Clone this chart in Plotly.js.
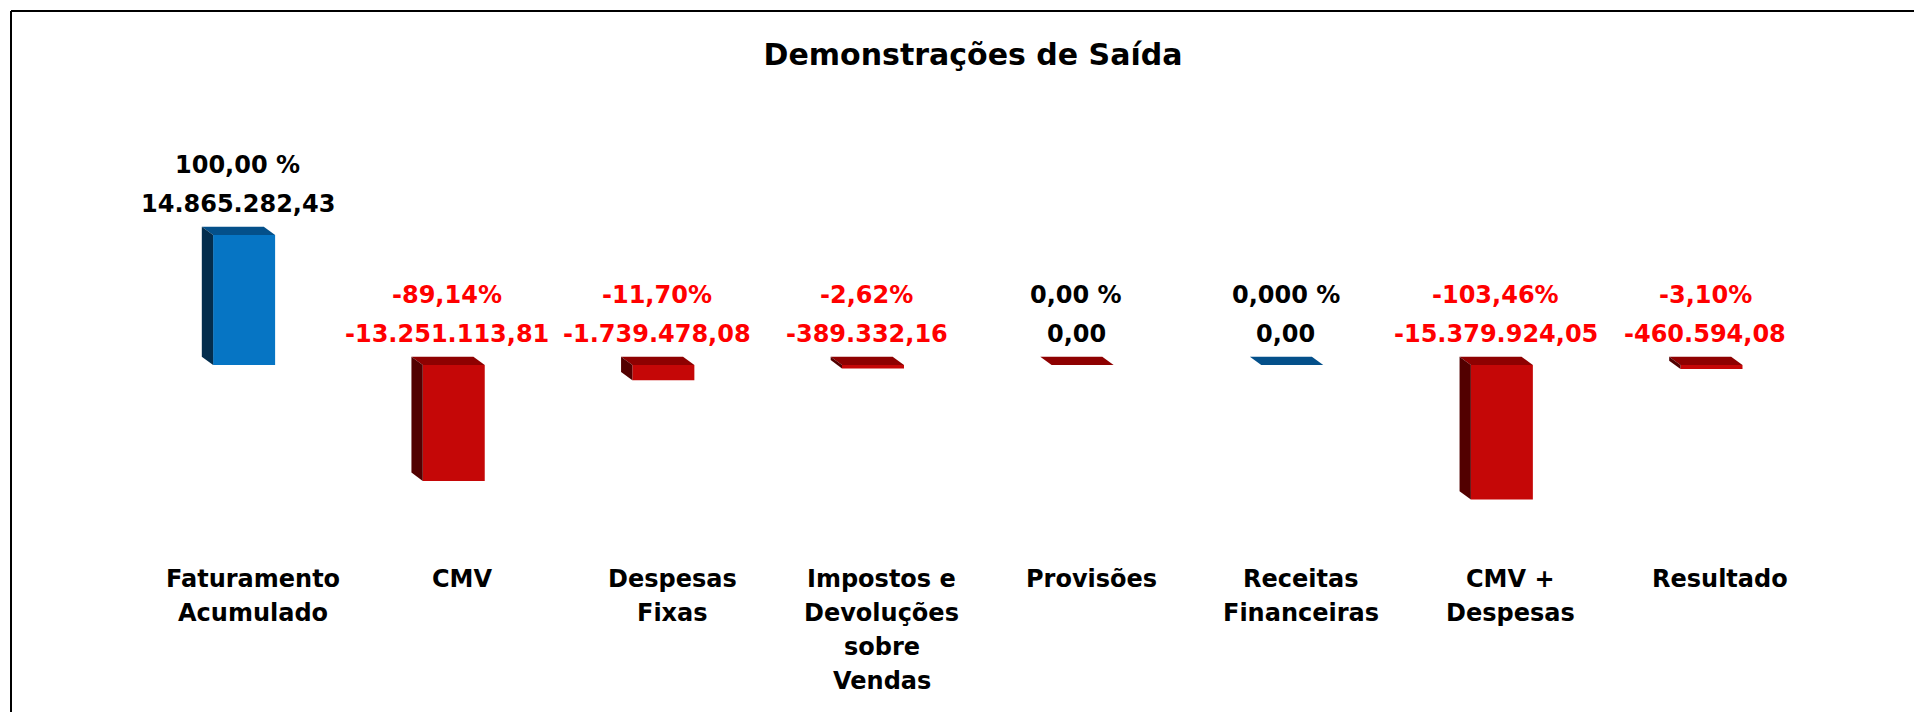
<!DOCTYPE html>
<html>
<head>
<meta charset="utf-8">
<script src="https://cdn.plot.ly/plotly-3.0.1.min.js"></script>
<style>
  html, body { margin: 0; padding: 0; background: #ffffff; }
  #chart { width: 1914px; height: 712px; }
</style>
</head>
<body>
<div id="chart"></div>
<script>
// ---------- DATA ----------
const categorias = [
  "Faturamento<br>Acumulado",
  "CMV",
  "Despesas<br>Fixas",
  "Impostos e<br>Devoluções<br>sobre<br>Vendas",
  "Provisões",
  "Receitas<br>Financeiras",
  "CMV +<br>Despesas",
  "Resultado"
];
const valores = [14865282.43, -13251113.81, -1739478.08, -389332.16, 0.00, 0.00, -15379924.05, -460594.08];
const percentuais = ["100,00 %", "-89,14%", "-11,70%", "-2,62%", "0,00 %", "0,000 %", "-103,46%", "-3,10%"];
const tipos = ["receita", "despesa", "despesa", "despesa", "despesa", "receita", "despesa", "despesa"];
const titulo = "Demonstrações de Saída";

// ---------- STYLE / LAYOUT CONSTANTS ----------
const W = 1914, H = 712;
const M = { l: 148, r: 89, t: 100, b: 12 };
const plotW = W - M.l - M.r;
const plotH = H - M.t - M.b;
const catPx = plotW / categorias.length;
const pxPerUnit = 130 / 14865282.43;      // vertical scale of the chart
const baseY = 365;                         // pixel row of zero line
const yMax = (baseY - M.t) / pxPerUnit;
const yMin = -(M.t + plotH - baseY) / pxPerUnit;

const frontL = -39.7, frontR = 22.3;       // px relative to category centre
const depthX = -11.3, depthYpx = 8.3;      // 3D depth
const depthY = depthYpx / pxPerUnit;

const cores = {
  receita: { front: "#0675c4", top: "#04508a", side: "#032d4d" },
  despesa: { front: "#c50707", top: "#8e0101", side: "#520000" }
};
const FONT = "DejaVu Sans, Verdana, sans-serif";

function fmtBR(v) {
  const s = Math.abs(v).toFixed(2);
  const parts = s.split(".");
  const inteiro = parts[0].replace(/\B(?=(\d{3})+(?!\d))/g, ".");
  return (v < 0 ? "-" : "") + inteiro + "," + parts[1];
}
const px2paperX = px => (px - M.l) / plotW;
const px2paperY = py => 1 - (py - M.t) / plotH;

const idx = categorias.map((_, i) => i);

// ---------- TRACE ----------
const trace = {
  type: "bar",
  x: idx,
  y: valores,
  width: (frontR - frontL) / catPx,
  offset: frontL / catPx,
  marker: { color: tipos.map(t => cores[t].front), line: { width: 0 } },
  hoverinfo: "skip"
};

// ---------- 3D FACES ----------
const shapes = [];
valores.forEach((v, i) => {
  const c = cores[tipos[i]];
  const yt = Math.max(v, 0), yb = Math.min(v, 0);
  shapes.push({
    type: "path", xref: "x", yref: "y", xsizemode: "pixel", xanchor: i,
    path: `M ${frontL},${yt} L ${frontR},${yt} L ${frontR + depthX},${yt + depthY} L ${frontL + depthX},${yt + depthY} Z`,
    fillcolor: c.top, line: { width: 0 }, layer: "above"
  });
  shapes.push({
    type: "path", xref: "x", yref: "y", xsizemode: "pixel", xanchor: i,
    path: `M ${frontL},${yb} L ${frontL},${yt} L ${frontL + depthX},${yt + depthY} L ${frontL + depthX},${yb + depthY} Z`,
    fillcolor: c.side, line: { width: 0 }, layer: "above"
  });
});
// frame (top and left edges, cropped)
shapes.push({
  type: "line", xref: "paper", yref: "paper",
  x0: px2paperX(11), x1: px2paperX(1940), y0: px2paperY(11), y1: px2paperY(11),
  line: { color: "#000000", width: 2 }
});
shapes.push({
  type: "line", xref: "paper", yref: "paper",
  x0: px2paperX(11), x1: px2paperX(11), y0: px2paperY(11), y1: px2paperY(740),
  line: { color: "#000000", width: 2 }
});

// ---------- ANNOTATIONS ----------
const annotations = [];
valores.forEach((v, i) => {
  const cor = v < 0 ? "#ff0000" : "#000000";
  const y = Math.max(v, 0);
  annotations.push({
    x: i, y: y, xref: "x", yref: "y", xshift: -15, yshift: 70,
    text: percentuais[i], showarrow: false, xanchor: "center", yanchor: "middle",
    font: { family: FONT, size: 24, weight: 700, color: cor }
  });
  annotations.push({
    x: i, y: y, xref: "x", yref: "y", xshift: -15, yshift: 31,
    text: fmtBR(v), showarrow: false, xanchor: "center", yanchor: "middle",
    font: { family: FONT, size: 24, weight: 700, color: cor }
  });
});
categorias.forEach((c, i) => {
  c.split("<br>").forEach((linha, k) => {
    annotations.push({
      x: i, xref: "x", y: px2paperY(579 + k * 34), yref: "paper",
      text: linha, showarrow: false, xanchor: "center", yanchor: "middle",
      font: { family: FONT, size: 24, weight: 700, color: "#000000" }
    });
  });
});

const layout = {
  width: W, height: H,
  margin: M,
  paper_bgcolor: "#ffffff", plot_bgcolor: "#ffffff",
  showlegend: false,
  title: {
    text: titulo,
    font: { family: FONT, size: 30, weight: 700, color: "#000000" },
    xref: "container", x: 973 / W, xanchor: "center",
    yref: "container", y: 1 - 54 / H, yanchor: "middle"
  },
  xaxis: { type: "linear", range: [-0.5, categorias.length - 0.5], visible: false, fixedrange: true },
  yaxis: { type: "linear", range: [yMin, yMax], visible: false, fixedrange: true, zeroline: false, showgrid: false },
  shapes: shapes,
  annotations: annotations
};

Plotly.newPlot("chart", [trace], layout, { staticPlot: true, displayModeBar: false });
</script>
</body>
</html>
